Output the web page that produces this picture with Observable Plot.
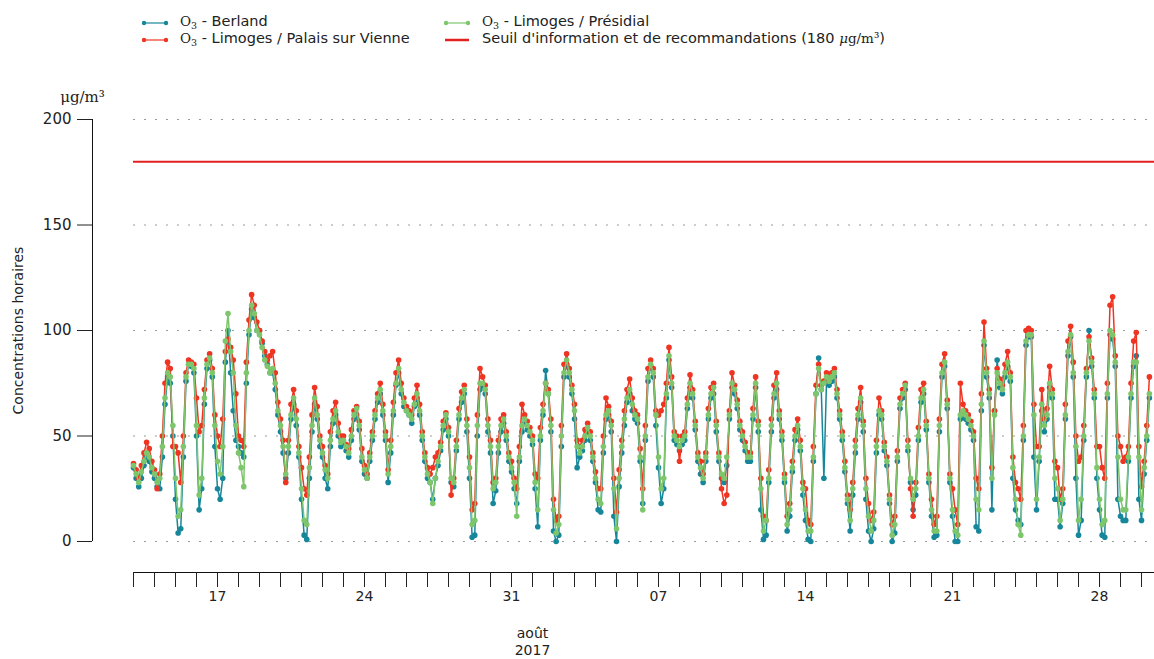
<!DOCTYPE html>
<html><head><meta charset="utf-8">
<script src="https://cdn.jsdelivr.net/npm/d3@7"></script>
<script src="https://cdn.jsdelivr.net/npm/@observablehq/plot@0.6"></script>
<style>
body{margin:0;background:#fff;font-family:"DejaVu Sans",sans-serif;color:#222;overflow:hidden}
#legend{position:relative;height:56px;width:1154px;font-size:14.5px}
.mk{position:absolute}
.tx{position:absolute;white-space:nowrap;line-height:16px}
.serif{font-family:"DejaVu Serif",serif;font-size:13.5px}
.serif sub{font-size:9.5px;vertical-align:-3px;line-height:0}
</style></head><body>
<div id="legend"></div>
<div id="chart"></div>
<script>
// 3-hourly readings from 2017-07-13 00:00 (UTC)
const presidial = [
36,32,28,33,38,42,40,35, 32,28,30,45,68,80,78,55, 30,12,15,45,78,84,84,82, 55,22,30,68,84,87,80,55,
38,32,45,95,108,90,80,55, 42,35,26,80,100,112,108,100, 98,92,86,83,80,82,75,62, 55,45,32,45,60,68,58,42,
25,10,8,35,55,68,60,48, 42,34,30,48,58,62,52,47, 48,45,42,50,60,63,55,40, 34,30,40,50,60,68,72,62,
50,32,45,62,75,82,72,66, 62,60,58,65,70,62,50,40, 32,28,18,30,38,45,55,60, 52,30,28,45,60,68,72,55,
35,8,10,55,75,75,72,55, 45,25,28,45,55,58,50,40, 35,28,12,40,55,58,55,52, 48,28,15,50,62,75,70,55,
15,4,8,50,80,86,80,72, 62,45,42,45,50,54,50,40, 30,20,18,45,60,62,55,25, 6,30,45,58,68,72,65,60,
58,40,15,50,78,84,80,60, 40,25,30,70,88,75,50,48, 45,48,50,65,75,70,55,40, 35,30,40,60,70,73,55,40,
32,30,40,60,75,72,65,55, 50,45,40,40,60,75,55,25, 5,10,30,55,70,75,60,50, 30,8,15,35,50,55,45,25,
15,5,5,40,70,82,72,75, 78,76,78,80,70,60,50,35, 20,10,25,45,60,68,55,25, 12,5,10,45,62,60,45,38,
20,3,8,40,65,70,74,45, 30,20,25,50,68,72,55,30, 15,5,5,55,80,85,65,30, 15,5,3,60,62,60,58,55,
50,20,15,65,95,80,70,30, 60,80,75,72,80,85,78,35, 20,8,3,50,95,98,98,60, 20,40,65,55,60,75,70,30,
25,10,20,60,90,98,80,45, 10,20,50,80,95,85,70,35, 20,8,10,70,100,98,85,40, 20,15,15,40,70,85,85,40,
15,35,50,70];
const berland = [
35,30,26,30,36,40,38,33, 30,26,25,40,65,78,75,50, 20,4,6,40,76,84,83,80, 50,15,25,65,82,86,78,45,
25,20,30,85,100,80,62,48, 45,42,40,75,98,110,106,100, 100,94,88,84,80,80,72,60, 52,42,30,42,58,65,55,40,
20,3,1,30,52,65,58,45, 40,30,25,45,56,60,50,45, 46,43,40,48,58,60,53,38, 32,30,38,48,58,66,70,60,
48,28,42,60,74,80,70,64, 62,60,56,64,68,60,48,38, 30,28,20,30,36,43,53,58, 50,28,26,43,58,66,70,52,
30,2,3,50,72,74,70,52, 42,18,24,42,52,56,48,38, 33,25,18,38,52,56,53,50, 46,25,7,48,60,81,70,52,
5,0,3,45,78,84,78,70, 58,35,40,43,48,52,48,38, 28,15,14,42,58,60,52,12, 0,26,42,55,66,70,62,58,
56,38,18,48,76,83,78,55, 35,18,25,68,86,73,48,46, 43,46,48,63,73,68,53,38, 32,28,38,58,68,70,52,38,
30,28,36,58,73,70,63,53, 48,43,38,38,58,73,52,15, 1,3,28,52,68,72,58,48, 28,5,12,33,48,53,43,22,
10,1,0,38,70,87,72,30, 76,74,76,78,68,58,48,33, 18,5,22,42,58,66,52,20, 5,0,6,42,60,58,43,36,
18,0,4,38,63,68,72,43, 28,15,22,48,66,70,53,28, 12,2,3,52,78,83,63,28, 12,0,0,58,60,58,56,53,
48,7,5,62,93,78,68,15, 62,86,73,70,78,83,76,30, 15,10,8,48,93,97,97,40, 15,38,62,52,58,73,68,20,
20,7,18,58,88,97,78,30, 3,10,48,78,100,83,68,30, 15,3,2,68,98,96,83,20, 12,10,10,38,68,83,88,20,
10,32,48,68];
const palais = [
37,34,30,36,42,47,44,38, 34,25,32,50,75,85,82,45, 45,42,28,50,80,86,85,84, 68,52,55,72,86,89,82,60,
50,45,58,90,96,92,86,70, 50,48,45,85,105,117,112,104, 100,95,90,86,88,90,80,66, 58,48,28,48,65,72,62,45,
35,25,22,40,60,73,64,50, 45,36,32,52,62,66,56,50, 50,46,44,53,62,64,57,44, 36,32,42,52,62,70,75,65,
52,34,48,66,80,86,75,68, 64,62,60,68,74,65,52,42, 35,32,35,40,42,47,57,61, 54,22,30,48,63,71,74,58,
40,15,18,60,82,78,74,58, 48,28,30,48,58,60,52,42, 38,30,25,45,65,60,57,54, 50,32,30,54,65,75,72,58,
20,10,12,55,84,89,82,74, 65,48,45,48,53,56,52,42, 33,25,25,50,68,64,57,30, 14,34,48,62,72,77,68,62,
60,44,25,55,82,86,82,62, 60,62,65,75,92,78,52,50, 38,50,52,68,79,72,57,42, 38,32,42,63,73,75,57,42,
25,18,22,62,80,74,67,57, 52,47,42,42,63,78,57,30, 12,10,34,58,74,80,62,52, 32,12,18,38,53,58,48,28,
25,10,8,45,74,84,74,76, 80,78,80,82,72,62,52,38, 22,15,28,48,63,73,57,30, 18,10,14,48,68,62,47,40,
22,8,12,43,68,72,75,48, 25,12,28,54,72,75,57,32, 20,8,12,58,84,89,67,32, 25,15,8,75,65,62,60,57,
52,30,25,70,104,82,72,35, 62,82,77,74,84,90,80,40, 28,25,20,55,100,101,100,65, 45,45,72,58,63,83,72,38,
35,20,25,65,95,102,85,50, 38,40,55,82,97,87,72,45, 45,35,30,75,112,116,88,50, 45,38,40,45,75,95,99,45,
26,38,55,78];
const yTicks = [0, 50, 100, 150, 200];
const threshold = 180;
const seriesNames = ["Berland", "Limoges / Palais sur Vienne", "Limoges / Présidial"];
const colors = ["#16879a", "#ef3422", "#7dc66b"];
const thresholdColor = "#e3201f";

const t0 = Date.UTC(2017, 6, 13);
const tEnd = Date.UTC(2017, 7, 30, 14, 50);
const step = 3 * 3600e3;
const rows = (vals) => vals.map((v, i) => ({t: new Date(t0 + i * step), v}));
const data = [rows(berland), rows(palais), rows(presidial)];

// legend
const lg = document.getElementById("legend");
function marker(c, dots) {
  return `<svg width="28" height="10"><line x1="2" y1="5" x2="26" y2="5" stroke="${c}" stroke-width="${dots?1.2:2.5}"/>` +
    (dots ? `<circle cx="3" cy="5" r="2.2" fill="${c}"/><circle cx="25" cy="5" r="2.2" fill="${c}"/>` : "") + `</svg>`;
}
const o3 = `<span class="serif">O<sub>3</sub></span> - `;
const items = [
  {mx: 141, tx: 180, y: 22, c: colors[0], html: o3 + seriesNames[0], dots: true},
  {mx: 141, tx: 180, y: 39, c: colors[1], html: o3 + seriesNames[1], dots: true},
  {mx: 443, tx: 482, y: 22, c: colors[2], html: o3 + seriesNames[2], dots: true},
  {mx: 443, tx: 482, y: 39, c: thresholdColor, html: `Seuil d'information et de recommandations (180 <span class="serif"><i>μ</i>g/m³</span>)`, dots: false}
];
for (const it of items) {
  const m = document.createElement("div");
  m.className = "mk"; m.style.left = it.mx + "px"; m.style.top = (it.y - 7) + "px";
  m.innerHTML = marker(it.c, it.dots);
  const t = document.createElement("div");
  t.className = "tx"; t.style.left = it.tx + "px"; t.style.top = (it.y - 9) + "px";
  t.innerHTML = it.html;
  lg.appendChild(m); lg.appendChild(t);
}

const marks = [
  Plot.ruleY(yTicks, {stroke: "#9a9a9a", strokeDasharray: "2,9", strokeWidth: 1}),
  Plot.ruleY([threshold], {stroke: thresholdColor, strokeWidth: 2})
];
data.forEach((d, i) => {
  marks.push(Plot.line(d, {x: "t", y: "v", stroke: colors[i], strokeWidth: 1.5}));
  marks.push(Plot.dot(d, {x: "t", y: "v", fill: colors[i], r: 2.8}));
});
marks.push(
  Plot.ruleX([new Date(t0)], {y1: 0, y2: 200, dx: -41, stroke: "#111"}),
  Plot.axisY({ticks: yTicks, anchor: "left", tickSize: 15, tickPadding: 6, dx: -41, fontSize: 15, label: null}),
  Plot.ruleY([0], {dy: 31, stroke: "#111"}),
  Plot.axisX({ticks: d3.utcDay.every(1), tickFormat: () => "", tickSize: 15, dy: 31, anchor: "bottom", label: null}),
  Plot.axisX({ticks: d3.utcMonday.every(1), tickFormat: d3.utcFormat("%d"), tickSize: 15, tickPadding: 4, dy: 31, anchor: "bottom", label: null, fontSize: 14}),
  Plot.text([new Date(Date.UTC(2017, 7, 1))], {x: d => d, frameAnchor: "bottom", text: () => "août\n2017", lineAnchor: "top", dy: 85, fontSize: 14, lineHeight: 1.2}),
  Plot.text(["μg/m³"], {frameAnchor: "top-left", text: d => d, textAnchor: "middle", lineAnchor: "middle", dx: -51, dy: -22, fontSize: 15, fontFamily: "DejaVu Serif"}),
  Plot.text(["Concentrations horaires"], {frameAnchor: "left", text: d => d, rotate: -90, textAnchor: "middle", dx: -115, fontSize: 14})
);

const chart = Plot.plot({
  width: 1154, height: 603,
  marginLeft: 133, marginRight: 0, marginTop: 63, marginBottom: 118,
  style: {fontFamily: "DejaVu Sans", background: "#fff", color: "#222"},
  x: {type: "utc", domain: [new Date(t0), new Date(tEnd)], axis: null},
  y: {domain: [0, 200], axis: null},
  marks
});
document.getElementById("chart").appendChild(chart);
</script>
</body></html>
